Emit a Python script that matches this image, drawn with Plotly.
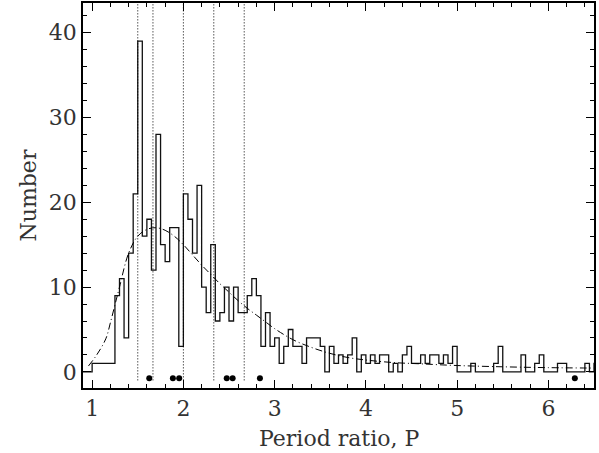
import numpy as np
import plotly.graph_objects as go

# ---- data ----
bin_start = 0.9
bin_width = 0.05
counts = [0, 0, 1, 1, 1, 1, 1, 9, 11, 4, 14, 21, 39, 16, 18, 12, 28, 15, 13, 17,
          17, 3, 21, 18, 14, 22, 10, 7, 15, 6, 7, 10, 6, 10, 7, 7, 9, 11, 9, 3,
          7, 3, 4, 1, 3, 5, 3, 3, 1, 4, 4, 4, 3, 0, 3, 1, 2, 1, 2, 4,
          0, 2, 1, 2, 1, 2, 2, 0, 1, 0, 2, 3, 1, 1, 2, 1, 2, 2, 1, 2,
          1, 3, 0, 0, 0, 1, 0, 0, 0, 0, 1, 3, 0, 0, 0, 0, 2, 0, 0, 1,
          2, 0, 0, 0, 1, 1, 0, 0, 0, 0, 1, 0, 1]

fit_p = [0.96, 1.05, 1.15, 1.2, 1.25, 1.3, 1.4, 1.5, 1.6, 1.7, 1.8, 1.9, 2.0, 2.1, 2.2,
         2.3, 2.4, 2.5, 2.6, 2.7, 2.8, 2.9, 3.0, 3.2, 3.4, 3.6, 3.8, 4.0, 4.3, 4.6,
         5.0, 5.5, 6.0, 6.5]
fit_n = [0.7, 2.0, 3.9, 5.8, 7.9, 10.0, 14.0, 16.0, 16.8, 17.0, 16.7, 16.0, 15.0, 13.8, 12.6,
         11.5, 10.4, 9.4, 8.4, 7.5, 6.7, 5.9, 5.1, 3.8, 2.9, 2.2, 1.7, 1.4, 1.1, 0.95,
         0.75, 0.6, 0.5, 0.45]

resonances = [3/2, 5/3, 2.0, 7/3, 8/3]
systems_p = [1.626, 1.885, 1.954, 2.475, 2.54, 2.839, 6.29]
systems_y = -0.75

x_ticks = [1, 2, 3, 4, 5, 6]
y_ticks = [0, 10, 20, 30, 40]
x_title = "Period ratio, P"
y_title = "Number"

# ---- figure ----
n = len(counts)
edges = bin_start + bin_width * np.arange(n + 1)
step_x = list(edges)
step_y = counts + [counts[-1]]

fig = go.Figure()
fig.add_trace(go.Scatter(x=step_x, y=step_y, mode="lines", line_shape="hv",
                         line=dict(color="#111", width=1.3), showlegend=False,
                         hoverinfo="skip"))
fig.add_trace(go.Scatter(x=fit_p, y=fit_n, mode="lines", line_shape="spline",
                         line=dict(color="black", width=1, dash="7px,3px,1px,3px"),
                         showlegend=False, hoverinfo="skip"))
fig.add_trace(go.Scatter(x=systems_p, y=[systems_y] * len(systems_p), mode="markers",
                         marker=dict(color="black", size=6), showlegend=False,
                         hoverinfo="skip"))

for r in resonances:
    fig.add_shape(type="line", x0=r, x1=r, y0=-1.0, y1=43.5, xref="x", yref="y",
                  line=dict(color="black", width=1, dash="1px,2px"))

font_family = "DejaVu Serif"
txt_color = "#333333"
fig.update_layout(
    width=599, height=453,
    margin=dict(l=83, r=5, t=3, b=65),
    paper_bgcolor="white", plot_bgcolor="white",
    font=dict(family=font_family, color=txt_color, size=22),
    xaxis=dict(range=[0.9, 6.5], tickvals=x_ticks, ticks="inside", ticklen=8,
               tickwidth=1, tickcolor="black", showgrid=False, zeroline=False,
               showline=True, linecolor="black", linewidth=1.6, mirror="ticks",
               automargin=False,
               minor=dict(dtick=0.2, tick0=0, ticks="inside", ticklen=4,
                          tickcolor="black", tickwidth=1),
               tickfont=dict(size=22, family=font_family, color=txt_color)),
    yaxis=dict(range=[-1.9, 43.5], tickvals=y_ticks, ticks="inside", ticklen=8,
               tickwidth=1, tickcolor="black", showgrid=False, zeroline=False,
               showline=True, linecolor="black", linewidth=1.6, mirror="ticks",
               automargin=False,
               minor=dict(dtick=2, tick0=0, ticks="inside", ticklen=4,
                          tickcolor="black", tickwidth=1),
               tickfont=dict(size=22, family=font_family, color=txt_color)),
)
fig.add_annotation(text=x_title, xref="paper", yref="paper", x=0.5, y=-50 / 385,
                   yanchor="middle", xanchor="center", showarrow=False,
                   font=dict(size=22, family=font_family, color=txt_color))
fig.add_annotation(text=y_title, xref="paper", yref="paper", x=-55 / 511, y=0.5,
                   yanchor="middle", xanchor="center", showarrow=False, textangle=-90,
                   font=dict(size=22, family=font_family, color=txt_color))

fig.write_html("out.html", config={"displayModeBar": False},
               post_script="document.body.style.margin='0';document.body.style.overflow='hidden';")
